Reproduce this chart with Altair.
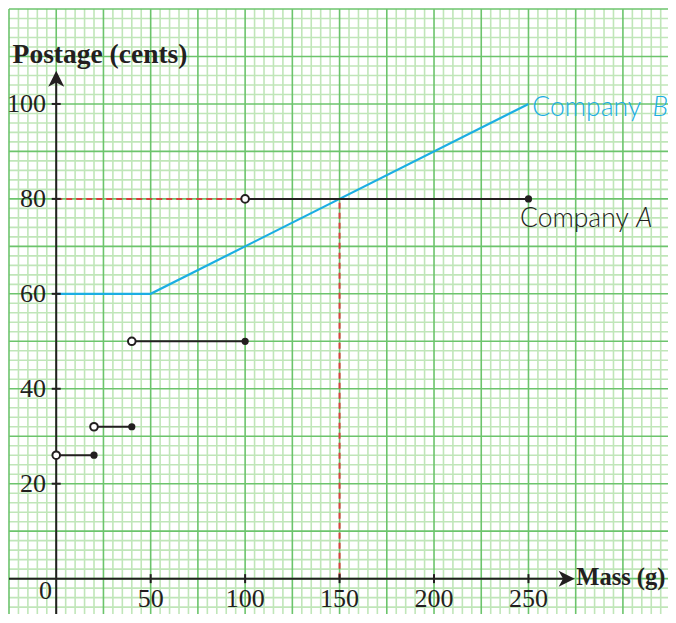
import altair as alt
import pandas as pd

# ---------------- data ----------------
# Company A: step pricing (open circle at start, closed dot at end)
a_start = [0, 20, 40, 100]
a_end = [20, 40, 100, 250]
a_cost = [26, 32, 50, 80]

# Company B: flat then linear
b_mass = [0, 50, 250]
b_cost = [60, 60, 100]

# reading guides (intersection of the two companies)
guide_mass = 150
guide_cost = 80

# axis ticks / labels
x_ticks = [50, 100, 150, 200, 250]
y_ticks = [20, 40, 60, 80, 100]

# ---------------- layout / style ----------------
PX_X = 1.889   # pixels per gram
PX_Y = 4.747   # pixels per cent
W, H = 659, 605
X_MIN, Y_MAX = -25, 120
X_MAX = X_MIN + W / PX_X
Y_MIN = Y_MAX - H / PX_Y

MINOR = "#C0E6B9"
MAJOR = "#6CC46C"
BLACK = "#231F20"
BLUE = "#1BAEE3"
RED = "#D9403E"
SERIF = "Liberation Serif"
SANS = "Lato"

xs = alt.Scale(domain=[X_MIN, X_MAX], nice=False, zero=False)
ys = alt.Scale(domain=[Y_MIN, Y_MAX], nice=False, zero=False)


def X(field=None, **kw):
    if field is None:
        return alt.X(scale=xs, axis=None, **kw)
    return alt.X(field, type="quantitative", scale=xs, axis=None, **kw)


def Y(field=None, **kw):
    if field is None:
        return alt.Y(scale=ys, axis=None, **kw)
    return alt.Y(field, type="quantitative", scale=ys, axis=None, **kw)


# graph-paper grid: minor every 5 g / 2 c, major every 25 g / 10 c
minor_x = [v for v in range(-25, 330, 5) if v % 25 != 0]
major_x = [v for v in range(-25, 330, 25)]
minor_y = [v for v in range(-8, 121, 2) if v % 10 != 0]
major_y = [v for v in range(0, 121, 10)]

grid = [
    alt.Chart(pd.DataFrame({"v": minor_x})).mark_rule(color=MINOR, strokeWidth=1.6).encode(x=X("v")),
    alt.Chart(pd.DataFrame({"v": minor_y})).mark_rule(color=MINOR, strokeWidth=1.6).encode(y=Y("v")),
    alt.Chart(pd.DataFrame({"v": major_x})).mark_rule(color=MAJOR, strokeWidth=1.6).encode(x=X("v")),
    alt.Chart(pd.DataFrame({"v": major_y})).mark_rule(color=MAJOR, strokeWidth=1.6).encode(y=Y("v")),
]

# red dashed guides
guides_df = pd.DataFrame({
    "x": [0, guide_mass], "x2": [guide_mass, guide_mass],
    "y": [guide_cost, 0], "y2": [guide_cost, guide_cost],
})
guides = alt.Chart(guides_df).mark_rule(color=RED, strokeWidth=2, strokeDash=[6, 4]).encode(
    x=X("x"), x2="x2", y=Y("y"), y2="y2"
)

# company B line
b_df = pd.DataFrame({"m": b_mass, "c": b_cost})
line_b = alt.Chart(b_df).mark_line(color=BLUE, strokeWidth=2.2).encode(x=X("m"), y=Y("c"))

# company A steps
a_df = pd.DataFrame({"s": a_start, "e": a_end, "c": a_cost})
steps = alt.Chart(a_df).mark_rule(color=BLACK, strokeWidth=2).encode(x=X("s"), x2="e", y=Y("c"))
open_pts = alt.Chart(a_df).mark_point(
    shape="circle", filled=True, fill="white", stroke=BLACK, strokeWidth=2, size=58, opacity=1
).encode(x=X("s"), y=Y("c"))
closed_pts = alt.Chart(a_df).mark_point(
    shape="circle", filled=True, color=BLACK, size=52, opacity=1
).encode(x=X("e"), y=Y("c"))

# axes drawn through the origin
x_axis_span = [X_MIN, 271]
y_axis_span = [Y_MIN, 105]
axis_x = alt.Chart(pd.DataFrame({"a": [x_axis_span[0]], "b": [x_axis_span[1]], "y": [0]})).mark_rule(
    color=BLACK, strokeWidth=2
).encode(x=X("a"), x2="b", y=Y("y"))
axis_y = alt.Chart(pd.DataFrame({"a": [y_axis_span[0]], "b": [y_axis_span[1]], "x": [0]})).mark_rule(
    color=BLACK, strokeWidth=2
).encode(y=Y("a"), y2="b", x=X("x"))

arrow_right = "M1,0L-1,1L-0.45,0L-1,-1Z"
arrow_up = "M0,-1L1,1L0,0.45L-1,1Z"
arr_x = alt.Chart(pd.DataFrame({"x": [270.2], "y": [0]})).mark_point(
    shape=arrow_right, filled=True, color=BLACK, size=256, opacity=1
).encode(x=X("x"), y=Y("y"))
arr_y = alt.Chart(pd.DataFrame({"x": [0], "y": [105.3]})).mark_point(
    shape=arrow_up, filled=True, color=BLACK, size=256, opacity=1
).encode(x=X("x"), y=Y("y"))

xt_df = pd.DataFrame({"t": x_ticks, "z": [0] * len(x_ticks), "lab": [str(v) for v in x_ticks]})
yt_df = pd.DataFrame({"t": y_ticks, "z": [0] * len(y_ticks), "lab": [str(v) for v in y_ticks]})
ticks_x = alt.Chart(xt_df).mark_tick(orient="vertical", size=9, thickness=2, color=BLACK, opacity=1).encode(
    x=X("t"), y=Y("z")
)
ticks_y = alt.Chart(yt_df).mark_tick(orient="horizontal", size=9, thickness=2, color=BLACK, opacity=1).encode(
    y=Y("t"), x=X("z")
)

xlab = alt.Chart(xt_df).mark_text(font=SERIF, fontSize=26, color=BLACK, align="center", baseline="alphabetic").encode(
    x=X("t"), y=Y(datum=-6.0), text="lab:N"
)
ylab = alt.Chart(yt_df).mark_text(font=SERIF, fontSize=26, color=BLACK, align="right", baseline="middle").encode(
    y=Y("t"), x=X(datum=-5.4), text="lab:N"
)
zero_lab = alt.Chart(pd.DataFrame({"x": [-5.7], "y": [-4.3], "t": ["0"]})).mark_text(
    font=SERIF, fontSize=26, color=BLACK, align="center", baseline="alphabetic"
).encode(x=X("x"), y=Y("y"), text="t:N")

titles = alt.Chart(pd.DataFrame({
    "x": [-23.1], "y": [108.7], "t": ["Postage (cents)"]
})).mark_text(font=SERIF, fontSize=27.5, fontWeight="bold", color=BLACK, align="left", baseline="alphabetic").encode(
    x=X("x"), y=Y("y"), text="t:N"
)
title_x = alt.Chart(pd.DataFrame({
    "x": [275.3], "y": [-1.3], "t": ["Mass (g)"]
})).mark_text(font=SERIF, fontSize=24.5, fontWeight="bold", color=BLACK, align="left", baseline="alphabetic").encode(
    x=X("x"), y=Y("y"), text="t:N"
)

lab_b = alt.Chart(pd.DataFrame({"x": [252], "y": [97.4], "t": ["Company"]})).mark_text(
    font=SANS, fontSize=26.5, fontWeight=300, color=BLUE, align="left", baseline="alphabetic"
).encode(x=X("x"), y=Y("y"), text="t:N")
lab_b2 = alt.Chart(pd.DataFrame({"x": [315.7], "y": [97.4], "t": ["B"]})).mark_text(
    font=SANS, fontSize=26.5, fontWeight=300, fontStyle="italic", color=BLUE, align="left", baseline="alphabetic"
).encode(x=X("x"), y=Y("y"), text="t:N")
lab_a = alt.Chart(pd.DataFrame({"x": [245.5], "y": [74], "t": ["Company"]})).mark_text(
    font=SANS, fontSize=26.5, fontWeight=300, color=BLACK, align="left", baseline="alphabetic"
).encode(x=X("x"), y=Y("y"), text="t:N")
lab_a2 = alt.Chart(pd.DataFrame({"x": [307], "y": [74], "t": ["A"]})).mark_text(
    font=SANS, fontSize=26.5, fontWeight=300, fontStyle="italic", color=BLACK, align="left", baseline="alphabetic"
).encode(x=X("x"), y=Y("y"), text="t:N")

chart = alt.layer(
    *grid, guides, line_b, steps, axis_x, axis_y, arr_x, arr_y, ticks_x, ticks_y,
    open_pts, closed_pts, xlab, ylab, zero_lab, titles, title_x, lab_b, lab_b2, lab_a, lab_a2
).properties(
    width=W, height=H,
    padding={"left": 1, "top": 1, "right": 0, "bottom": 0},
    autosize=alt.AutoSizeParams(type="none"),
    background="white",
).configure_view(strokeWidth=0)

chart.save("out.html", embed_options={"renderer": "svg", "actions": False})
